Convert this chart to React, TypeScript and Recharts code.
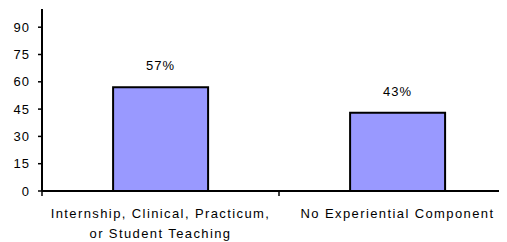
import { Bar, BarChart, LabelList, XAxis, YAxis } from "recharts";

// Share of programs by experiential component (percent).
const categoryLines = [
  ["Internship, Clinical, Practicum,", "or Student Teaching"],
  ["No Experiential Component"],
];
const categories = categoryLines.map((lines) => lines.join(" "));
const shares = [57, 43];
const yTicks = [0, 15, 30, 45, 60, 75, 90];

const data = categories.map((name, i) => ({ name, share: shares[i] }));

const FONT = "'Liberation Sans', Arial, sans-serif";

// Category label plus the short tick marks at the band edges (Excel style).
function CategoryTick(props: any) {
  const { x, y, payload, index } = props;
  const idx = categories.indexOf(payload.value);
  const lines = idx >= 0 ? categoryLines[idx] : [String(payload.value)];
  const half = payload.offset ?? 0;
  const isLast = index === categories.length - 1;
  return (
    <g transform={`translate(${x},${y})`}>
      <line x1={-half} x2={-half} y1={0} y2={5} stroke="#000" strokeWidth={1.5} />
      {isLast && (
        <line x1={half} x2={half} y1={0} y2={5} stroke="#000" strokeWidth={1.5} />
      )}
      <text
        textAnchor="middle"
        fill="#000"
        fontSize={13}
        letterSpacing={1.4}
        fontFamily={FONT}
      >
        {lines.map((line, i) => (
          <tspan key={i} x={0} y={26.5 + i * 20}>
            {line}
          </tspan>
        ))}
      </text>
    </g>
  );
}

export default function App() {
  return (
    <div style={{ width: 499, height: 234, overflow: "hidden", fontFamily: FONT }}>
      <BarChart
        width={508}
        height={234}
        data={data}
        margin={{ top: 1, right: 0, bottom: 0, left: 0 }}
        barCategoryGap="30%"
      >
        <XAxis
          dataKey="name"
          height={51}
          tickLine={false}
          tickSize={0}
          tickMargin={0}
          axisLine={{ stroke: "#000", strokeWidth: 2 }}
          tick={<CategoryTick />}
          interval={0}
        />
        <YAxis
          width={34}
          domain={[0, 100]}
          ticks={yTicks}
          tickSize={4}
          tickMargin={8}
          axisLine={{ stroke: "#000", strokeWidth: 2 }}
          tickLine={{ stroke: "#000", strokeWidth: 1.5 }}
          tick={{ fill: "#000", fontSize: 13, letterSpacing: 1, fontFamily: FONT }}
        />
        <Bar
          dataKey="share"
          fill="#9999FF"
          stroke="#000"
          strokeWidth={2}
          isAnimationActive={false}
        >
          <LabelList
            dataKey="share"
            position="top"
            offset={17}
            formatter={(v: any) => `${v}%`}
            fill="#000"
            fontSize={13}
            letterSpacing={1}
            fontFamily={FONT}
          />
        </Bar>
      </BarChart>
    </div>
  );
}
